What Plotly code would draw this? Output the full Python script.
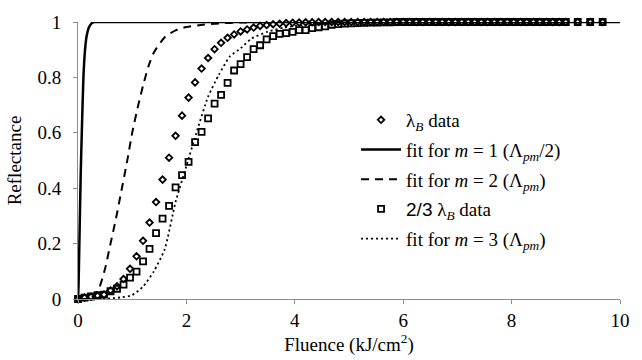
import plotly.graph_objects as go

# Fluence values of the measured points (kJ/cm^2)
x_data = [0.00, 0.12, 0.24, 0.36, 0.48, 0.60, 0.72, 0.84, 0.96, 1.08, 1.20, 1.32, 1.44, 1.56,
          1.68, 1.80, 1.92, 2.04, 2.16, 2.28, 2.40, 2.52, 2.64, 2.76, 2.88, 3.00, 3.12, 3.24,
          3.36, 3.48, 3.60, 3.72, 3.84, 3.96, 4.08, 4.20, 4.32, 4.44, 4.56, 4.68, 4.80, 4.92,
          5.04, 5.16, 5.28, 5.40, 5.52, 5.64, 5.76, 5.88, 6.00, 6.12, 6.24, 6.36, 6.48, 6.60,
          6.72, 6.84, 6.96, 7.08, 7.20, 7.32, 7.44, 7.56, 7.68, 7.80, 7.92, 8.04, 8.16, 8.28,
          8.40, 8.52, 8.64, 8.76, 8.88, 9.00, 9.22, 9.45, 9.68]

# lambda_B data (diamonds)
y_lb = [0.000, 0.005, 0.008, 0.012, 0.016, 0.031, 0.046, 0.072, 0.109, 0.154, 0.210, 0.276,
        0.350, 0.431, 0.510, 0.589, 0.662,
        0.727, 0.782, 0.832, 0.870, 0.902, 0.925, 0.943, 0.955, 0.966, 0.973, 0.980, 0.986,
        0.989, 0.992, 0.994, 0.996, 0.997, 0.998,
        0.999, 0.999, 1.0, 1.0, 1.0, 1.0] + [1.0] * 38

# 2/3 lambda_B data (squares)
y_23 = [0.000, 0.005, 0.009, 0.014, 0.016, 0.028, 0.037, 0.052, 0.077, 0.099, 0.136, 0.181,
        0.238, 0.290, 0.336, 0.403, 0.447, 0.495, 0.566, 0.603, 0.652, 0.705,
        0.737, 0.780, 0.825, 0.848, 0.873, 0.902, 0.916, 0.937, 0.949, 0.957, 0.960, 0.964,
        0.971, 0.971, 0.978, 0.981, 0.984, 0.990,
        0.992, 0.994, 0.995, 0.996, 0.997, 0.998, 0.998, 0.999, 0.999, 1.0, 1.0] + [1.0] * 28

# fit for m = 1
x_fit1 = [0.0, 0.01, 0.025, 0.05, 0.07, 0.10, 0.13, 0.16, 0.20, 0.25, 0.30, 0.40, 10.0]
y_fit1 = [0.0, 0.05, 0.20, 0.45, 0.60, 0.80, 0.90, 0.95, 0.98, 0.995, 1.0, 1.0, 1.0]

# fit for m = 2
x_fit2 = [0.0, 0.2, 0.3, 0.4, 0.5, 0.6, 0.7, 0.8, 0.9, 1.0, 1.1, 1.2, 1.3, 1.4, 1.6, 1.8,
          2.0, 2.3, 2.6, 3.0, 3.5, 4.0, 10.0]
y_fit2 = [0.0, 0.002, 0.012, 0.045, 0.11, 0.20, 0.29, 0.39, 0.49, 0.60, 0.69, 0.77, 0.84,
          0.89, 0.945, 0.97, 0.982, 0.99, 0.995, 0.998, 1.0, 1.0, 1.0]

# fit for m = 3
x_fit3 = [0.0, 0.4, 0.6, 0.8, 1.0, 1.2, 1.4, 1.6, 1.8, 2.0, 2.2, 2.4, 2.6, 2.8, 3.0, 3.2,
          3.5, 3.8, 4.2, 4.6, 5.0, 10.0]
y_fit3 = [0.0, 0.0, 0.002, 0.006, 0.014, 0.045, 0.10, 0.18, 0.35, 0.48, 0.61, 0.73, 0.81,
          0.875, 0.905, 0.94, 0.965, 0.98, 0.99, 0.996, 1.0, 1.0]

x_ticks = [0, 2, 4, 6, 8, 10]
y_ticks = [0, 0.2, 0.4, 0.6, 0.8, 1]
y_ticktext = ["0", "0.2", "0.4", "0.6", "0.8", "1"]

serif = "Liberation Serif"
sans23 = '<span style="font-family:Liberation Sans">2/3</span>'

fig = go.Figure()
fig.add_trace(go.Scatter(x=x_data, y=y_lb, mode="markers", name="λ<sub><i>B</i></sub> data",
                         legendgroup="a",
                         marker=dict(symbol="diamond-open", size=5, color="black",
                                     line=dict(width=1.8, color="black")),
                         cliponaxis=False))
fig.add_trace(go.Scatter(x=x_fit1, y=y_fit1, mode="lines", legendgroup="b",
                         name="fit for <i>m</i> = 1 (Λ<sub><i>pm</i></sub>/2)",
                         line=dict(color="black", width=2.5, shape="spline", smoothing=0.6)))
fig.add_trace(go.Scatter(x=x_fit2, y=y_fit2, mode="lines", legendgroup="c",
                         name="fit for <i>m</i> = 2 (Λ<sub><i>pm</i></sub>)",
                         line=dict(color="black", width=2, dash="8px,6px", shape="spline",
                                   smoothing=0.6)))
fig.add_trace(go.Scatter(x=x_data, y=y_23, mode="markers", legendgroup="d",
                         name=sans23 + " λ<sub><i>B</i></sub> data",
                         marker=dict(symbol="square-open", size=6, color="black",
                                     line=dict(width=1.8, color="black")),
                         cliponaxis=False))
fig.add_trace(go.Scatter(x=x_fit3, y=y_fit3, mode="lines", legendgroup="e",
                         name="fit for <i>m</i> = 3 (Λ<sub><i>pm</i></sub>)",
                         line=dict(color="black", width=1.8, dash="2px,3px", shape="spline",
                                   smoothing=0.6)))

axis_common = dict(showgrid=False, zeroline=False, showline=True, linecolor="#8c8c8c",
                   linewidth=1, ticks="outside", ticklen=4, tickcolor="#8c8c8c",
                   tickfont=dict(family=serif, size=19, color="black"))

fig.update_layout(
    width=642, height=360,
    margin=dict(l=78, r=22, t=17, b=56),
    paper_bgcolor="white", plot_bgcolor="white",
    font=dict(family=serif, size=19, color="black"),
    xaxis=dict(range=[0, 10], tickvals=x_ticks, **axis_common,
               title=dict(text="Fluence (kJ/cm<sup>2</sup>)", standoff=4,
                          font=dict(family=serif, size=19))),
    yaxis=dict(range=[0, 1], tickvals=y_ticks, ticktext=y_ticktext, **axis_common,
               ticklabelstandoff=8,
               title=dict(text="Reflectance", standoff=10,
                          font=dict(family=serif, size=19))),
    legend=dict(x=0.513, y=0.715, xanchor="left", yanchor="top",
                bgcolor="rgba(0,0,0,0)", font=dict(family=serif, size=19),
                tracegroupgap=2, itemwidth=40),
    showlegend=True,
)

fig.write_html("out.html")
